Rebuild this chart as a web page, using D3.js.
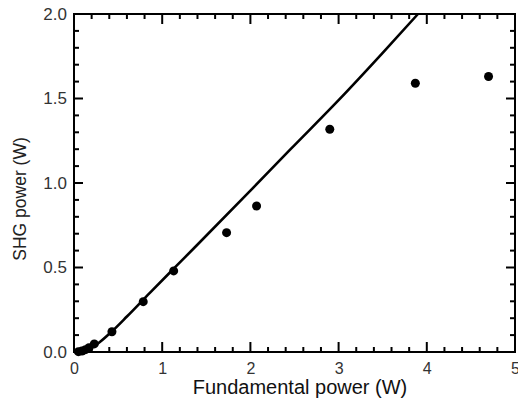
<!DOCTYPE html>
<html>
<head>
<meta charset="utf-8">
<script src="https://cdn.jsdelivr.net/npm/d3@7"></script>
<style>
  body { margin: 0; background: #fff; }
  svg { display: block; }
  .axis path { display: none; }
  .axis text { font-family: "Liberation Sans", Arial, sans-serif; fill: #333; }
</style>
</head>
<body>
<svg id="chart" width="518" height="406"></svg>
<script>
// measured data points (fundamental W, SHG W)
var fundPower = [0.05, 0.09, 0.13, 0.17, 0.23, 0.43, 0.785, 1.13, 1.73, 2.07, 2.90, 3.87, 4.70];
var shgPower  = [0.002, 0.006, 0.014, 0.025, 0.048, 0.12, 0.298, 0.48, 0.706, 0.864, 1.318, 1.59, 1.63];

// theory curve
var curveX = [0, 0.1, 0.2, 0.3, 0.43, 0.6, 0.86, 1.13, 1.39, 2.0, 2.45, 3.0, 3.5, 3.9];
var curveY = [0, 0.006, 0.025, 0.062, 0.122, 0.21, 0.35, 0.493, 0.63, 0.955, 1.197, 1.49, 1.77, 2.0];

var xTicks = [0, 1, 2, 3, 4, 5];
var yTicks = [0.0, 0.5, 1.0, 1.5, 2.0];

var svg = d3.select("#chart");
var pLeft = 74, pRight = 515, pTop = 14, pBottom = 352;

var x = d3.scaleLinear().domain([0, 5]).range([pLeft, pRight]);
var y = d3.scaleLinear().domain([0, 2]).range([pBottom, pTop]);

var xMinor = d3.range(0, 26).map(function (i) { return i / 5; });
var yMinor = d3.range(0, 21).map(function (i) { return i / 10; });

// frame
svg.append("rect")
    .attr("x", pLeft).attr("y", pTop)
    .attr("width", pRight - pLeft).attr("height", pBottom - pTop)
    .attr("fill", "none").attr("stroke", "#000").attr("stroke-width", 2);

// inward ticks on all four sides (major every 1 W / 0.5 W)
var tickSegs = [];
xMinor.forEach(function (v, i) {
    var len = (i % 5 === 0) ? 10 : 5;
    tickSegs.push([x(v), pBottom, x(v), pBottom - len]);
    tickSegs.push([x(v), pTop, x(v), pTop + len]);
});
yMinor.forEach(function (v, i) {
    var len = (i % 5 === 0) ? 9 : 5;
    tickSegs.push([pLeft, y(v), pLeft + len, y(v)]);
    tickSegs.push([pRight, y(v), pRight - len, y(v)]);
});
svg.append("g")
    .selectAll("line")
    .data(tickSegs)
    .enter().append("line")
    .attr("x1", function (d) { return d[0]; })
    .attr("y1", function (d) { return d[1]; })
    .attr("x2", function (d) { return d[2]; })
    .attr("y2", function (d) { return d[3]; })
    .style("stroke", "#000")
    .style("stroke-width", "2px");

// tick labels
var xAxis = svg.append("g").attr("class", "axis").attr("transform", "translate(0," + pBottom + ")")
    .call(d3.axisBottom(x).tickValues(xTicks).tickSize(0).tickPadding(11).tickFormat(d3.format("d")));
xAxis.selectAll("text").style("font-size", "16px");

var yAxis = svg.append("g").attr("class", "axis").attr("transform", "translate(" + pLeft + ",0)")
    .call(d3.axisLeft(y).tickValues(yTicks).tickSize(0).tickPadding(7).tickFormat(d3.format(".1f")));
yAxis.selectAll("text").style("font-size", "17px");

// theory line
var curve = curveX.map(function (d, i) { return [d, curveY[i]]; });
var line = d3.line()
    .x(function (d) { return x(d[0]); })
    .y(function (d) { return y(d[1]); })
    .curve(d3.curveMonotoneX);
svg.append("path")
    .attr("d", line(curve))
    .attr("fill", "none")
    .attr("stroke", "#000")
    .attr("stroke-width", 2.6);

// measured points
svg.selectAll("circle.pt")
    .data(fundPower)
    .enter().append("circle")
    .attr("class", "pt")
    .attr("cx", function (d) { return x(d); })
    .attr("cy", function (d, i) { return y(shgPower[i]); })
    .attr("r", 4.5)
    .attr("fill", "#000");

// axis titles
svg.append("text")
    .attr("x", 300).attr("y", 394)
    .attr("text-anchor", "middle")
    .style("font-family", "Liberation Sans, Arial, sans-serif")
    .style("font-size", "20px")
    .style("fill", "#111")
    .text("Fundamental power (W)");

svg.append("text")
    .attr("transform", "translate(26,199) rotate(-90)")
    .attr("text-anchor", "middle")
    .style("font-family", "Liberation Sans, Arial, sans-serif")
    .style("font-size", "17.5px")
    .style("fill", "#222")
    .text("SHG power (W)");
</script>
</body>
</html>
